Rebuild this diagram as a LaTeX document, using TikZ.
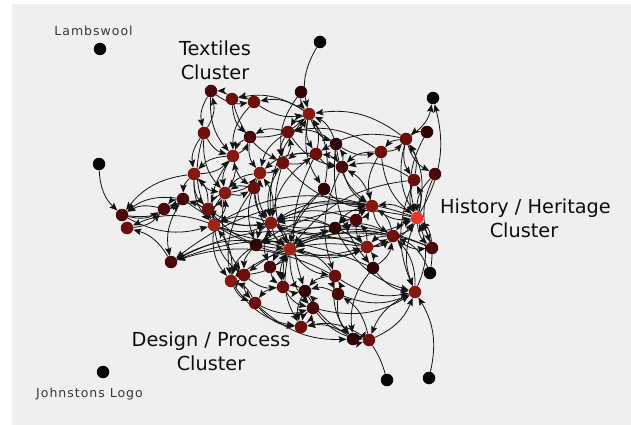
\documentclass[tikz,border=0pt]{standalone}
\usepackage{fontspec}
\setmainfont{DejaVu Sans}
\newfontfamily\smallfont[LetterSpace=8]{DejaVu Sans}
\usetikzlibrary{arrows.meta}
\pgfdeclarelayer{bg}
\pgfdeclarelayer{edges}
\pgfsetlayers{bg,edges,main}
\definecolor{bgc}{HTML}{EFEFEF}
\definecolor{c0}{HTML}{080808}
\definecolor{c1}{HTML}{300404}
\definecolor{c2}{HTML}{4A0808}
\definecolor{c3}{HTML}{6A0F0A}
\definecolor{c4}{HTML}{861A10}
\definecolor{c5}{HTML}{A02416}
\definecolor{cH}{HTML}{E8342A}
\begin{document}
\begin{tikzpicture}[x=1pt,y=-1pt,
  nd/.style={circle,inner sep=0pt,minimum size=12.5pt,draw=none},
  edge/.style={draw=black!92,line width=0.8pt,-{Stealth[length=8pt,width=6.5pt,inset=1.5pt]},bend right=22},
  plain/.style={draw=black!92,line width=0.8pt},
  biglbl/.style={anchor=base,font=\fontsize{19.3}{23}\selectfont,text=black!95,inner sep=0pt},
  smalllbl/.style={anchor=base,font=\smallfont\fontsize{12.5}{15}\selectfont,text=black!78,inner sep=0pt}]
\useasboundingbox (0,0) rectangle (631,425);
\begin{pgfonlayer}{bg}
\fill[white] (0,0) rectangle (631,425);
\fill[bgc] (12,4) rectangle (631,425);
\end{pgfonlayer}
% nodes
\foreach \i/\x/\y/\c in {
 1/100/49/c0, 2/320/42/c0, 3/99/164/c0, 4/103/372/c0, 5/387/380/c0, 6/429/378/c0, 7/433/98/c0,
 8/211/91/c2, 9/232/99/c3, 10/254/102/c3, 11/301/92/c1, 12/309/114/c4, 13/204/133/c3,
 14/250/137/c2, 15/288/132/c3, 16/336/144/c1, 17/406/139/c3, 18/427/132/c1, 19/381/152/c3,
 20/233/156/c4, 21/283/163/c3, 22/316/154/c3, 23/342/167/c2, 24/194/174/c4, 25/260/173/c4,
 26/254/188/c3, 27/225/193/c4, 28/183/199/c2, 29/164/209/c2, 30/208/209/c3, 31/122/215/c2,
 32/127/228/c3, 33/214/225/c5, 34/271/223/c4, 35/324/189/c1, 36/372/206/c4, 37/356/220/c2,
 38/335/228/c1, 39/414/180/c3, 40/435/174/c2, 41/417/218/cH, 42/393/236/c3, 43/367/247/c4,
 44/432/248/c2, 45/430/273/c0, 46/415/292/c4, 47/373/268/c1, 48/290/249/c5, 49/256/245/c1,
 50/171/262/c2, 51/270/267/c2, 52/244/275/c3, 53/231/281/c4, 54/283/287/c3, 55/305/291/c1,
 56/338/294/c2, 57/335/276/c3, 58/255/303/c3, 59/313/308/c2, 60/301/327/c3, 61/353/339/c1,
 62/369/340/c3}
 \node[nd,fill=\c] (n\i) at (\x,\y) {};
% labels
\node[smalllbl] (lamb) at (93.5,35.7) {Lambswool};
\node[smalllbl] (john) at (89.5,397.3) {Johnstons Logo};
\node[biglbl] (tex1) at (215,55.7) {Textiles};
\node[biglbl] (tex2) at (215,79.5) {Cluster};
\node[biglbl] (his1) at (525.5,213) {History / Heritage};
\node[biglbl] (his2) at (524,237) {Cluster};
\node[biglbl] (des1) at (211,346) {Design / Process};
\node[biglbl] (des2) at (211,370) {Cluster};
% edges
\begin{pgfonlayer}{edges}
\draw[plain] (n5) to[bend right=8] (n62);
\foreach \s/\t in {
 2/12, 3/31, 6/46, 17/7, 41/7, 17/12,
 8/13, 13/8, 9/8, 8/10, 8/20, 9/14, 10/9, 10/12, 12/10, 12/9, 11/12, 11/21, 12/15, 15/12,
 12/16, 16/12, 12/22, 22/12, 12/35, 35/12, 14/12, 15/14, 14/20, 20/14, 13/20, 10/20, 9/21,
 15/21, 21/15, 15/25, 20/24, 24/20, 13/24, 20/27, 27/20, 25/27, 27/25, 25/21, 21/22, 22/21,
 22/25, 14/25, 13/27, 24/27, 24/28, 24/30, 30/24, 27/30, 30/27, 26/27, 27/26, 20/26, 26/25,
 25/34, 34/25, 26/34, 22/34, 21/34, 12/34, 16/23, 23/16, 22/23, 23/22, 16/19, 19/23,
 28/31, 31/28, 29/31, 31/29, 32/29, 28/29, 30/29, 33/32, 31/33, 50/32, 28/50, 33/28, 24/31, 29/28,
 33/34, 34/33, 27/33, 33/27, 30/33, 24/33, 20/33, 13/33, 33/53, 53/33, 33/52, 34/48, 48/34,
 34/49, 49/34, 34/51, 34/38, 38/34, 37/34, 36/34, 34/41, 33/38, 48/43, 43/48, 42/48, 48/42,
 44/48, 48/49, 49/53, 52/48, 48/51, 51/48, 48/54, 48/57, 57/48, 48/59, 48/60, 49/52, 52/53,
 53/52, 53/58, 58/53, 52/58, 51/54, 54/51, 52/54, 54/58, 58/60, 58/59, 54/55, 55/54, 55/59,
 59/55, 54/59, 56/55, 57/55, 55/60, 59/60, 60/59, 61/60, 56/61, 57/56, 56/57, 47/50, 43/50,
 17/19, 19/17, 18/17, 39/17, 17/39, 17/40, 18/41, 17/41, 41/17, 39/41, 40/41, 41/39, 19/36,
 23/36, 36/23, 16/36, 37/36, 36/37, 36/42, 42/36, 36/41, 41/36, 42/41, 41/42, 43/42, 42/43,
 43/41, 44/41, 41/44, 42/44, 46/41, 41/46, 45/41, 46/42, 47/43, 43/47, 47/42, 43/37, 37/43,
 38/37, 37/38, 42/38, 36/38, 19/41, 62/46, 46/62, 61/62, 62/61, 62/56, 59/62, 62/60, 47/61,
 45/42, 40/44, 39/46, 38/46, 57/46, 47/46,
 17/22, 19/15, 16/15, 35/36, 34/36, 36/33, 43/34, 21/36, 15/23, 39/23, 41/34, 41/49, 44/49,
 39/48, 43/53, 42/52, 36/50, 48/50, 57/50, 26/53, 27/52, 25/49, 26/48, 30/34, 30/48, 35/48,
 35/54, 23/57, 22/55, 16/47, 21/48, 28/34, 33/43, 53/60, 58/61, 55/62, 57/61, 56/46, 59/46}
 \draw[edge] (n\s) to (n\t);
\end{pgfonlayer}
\end{tikzpicture}
\end{document}
